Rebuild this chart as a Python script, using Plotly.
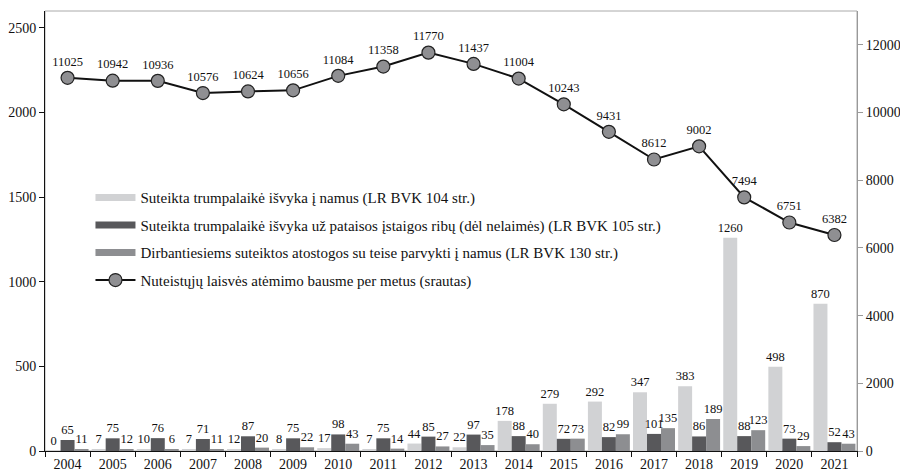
import plotly.graph_objects as go

years = [str(y) for y in range(2004, 2022)]
leave_104 = [0, 7, 10, 7, 12, 8, 17, 7, 44, 22, 178, 279, 292, 347, 383, 1260, 498, 870]
leave_105 = [65, 75, 76, 71, 87, 75, 98, 75, 85, 97, 88, 72, 82, 101, 86, 88, 73, 52]
leave_130 = [11, 12, 6, 11, 20, 22, 43, 14, 27, 35, 40, 73, 99, 135, 189, 123, 29, 43]
convicted = [11025, 10942, 10936, 10576, 10624, 10656, 11084, 11358, 11770, 11437,
             11004, 10243, 9431, 8612, 9002, 7494, 6751, 6382]

names = [
    "Suteikta trumpalaikė išvyka į namus (LR BVK 104 str.)",
    "Suteikta trumpalaikė išvyka už pataisos įstaigos ribų (dėl nelaimės) (LR BVK 105 str.)",
    "Dirbantiesiems suteiktos atostogos su teise parvykti į namus (LR BVK 130 str.)",
    "Nuteistųjų laisvės atėmimo bausme per metus (srautas)",
]
colors = ["#d1d2d4", "#58585b", "#8d8e91"]

FONT = "Liberation Serif"
LABEL_SIZE = 12.5
fig = go.Figure()

for vals, col, nm, g in zip([leave_104, leave_105, leave_130], colors, names[:3], ["a", "b", "c"]):
    fig.add_trace(go.Bar(
        x=years, y=vals, name=nm, marker=dict(color=col, line=dict(width=0)),
        text=[str(v) for v in vals], textposition="outside", constraintext="none",
        cliponaxis=False, textfont=dict(family=FONT, size=LABEL_SIZE, color="#111"),
        showlegend=False, yaxis="y", hoverinfo="skip",
    ))
    # legend proxy drawn as a wide bar-like line
    fig.add_trace(go.Scatter(
        x=[None], y=[None], mode="lines", name=nm, legendgroup=g,
        line=dict(color=col, width=7), showlegend=True,
    ))

fig.add_trace(go.Scatter(
    x=years, y=convicted, name=names[3], yaxis="y2", legendgroup="d",
    mode="lines+markers+text",
    line=dict(color="#111", width=2),
    marker=dict(size=13, color="#8f8f92", line=dict(color="#222", width=1.2)),
    text=[str(v) for v in convicted], textposition="top center",
    textfont=dict(family=FONT, size=LABEL_SIZE, color="#111"), cliponaxis=False,
    hoverinfo="skip",
))

fig.update_layout(
    width=900, height=471,
    margin=dict(l=45, r=43, t=11, b=20),
    paper_bgcolor="white", plot_bgcolor="white",
    barmode="group", bargap=0.07, bargroupgap=0,
    font=dict(family=FONT, size=14, color="#111"),
    showlegend=True,
    legend=dict(x=0.056, y=0.613, xanchor="left", yanchor="top",
                font=dict(family=FONT, size=15, color="#111"),
                bgcolor="rgba(0,0,0,0)", traceorder="grouped", tracegroupgap=5,
                itemwidth=40),
    xaxis=dict(type="category", range=[-0.5, 17.5], autorange=False,
               showgrid=False, showline=True, linecolor="#111",
               linewidth=1, ticks="outside", tickson="boundaries", ticklen=5,
               tickcolor="#111", tickfont=dict(family=FONT, size=14, color="#111"),
               zeroline=False, mirror=False, automargin=False),
    yaxis=dict(range=[0, 2600], tickvals=[0, 500, 1000, 1500, 2000, 2500],
               showgrid=False, showline=True, linecolor="#111", linewidth=1,
               ticks="outside", ticklen=5, tickcolor="#111", zeroline=False,
               automargin=False,
               tickfont=dict(family=FONT, size=14, color="#111")),
    yaxis2=dict(range=[0, 13000], tickvals=[0, 2000, 4000, 6000, 8000, 10000, 12000],
                tickformat="d", automargin=False,
                overlaying="y", side="right", showgrid=False, showline=True,
                linecolor="#999", linewidth=1, ticks="outside", ticklen=5,
                tickcolor="#999", zeroline=False,
                tickfont=dict(family=FONT, size=14, color="#111")),
    shapes=[dict(type="rect", xref="paper", yref="paper", x0=0, x1=1, y0=0, y1=1,
                 line=dict(color="#aaa", width=1), layer="below")],
)

fig.write_html("out.html", config={"displayModeBar": False},
               post_script="document.body.style.margin='0';document.body.style.overflow='hidden';")
